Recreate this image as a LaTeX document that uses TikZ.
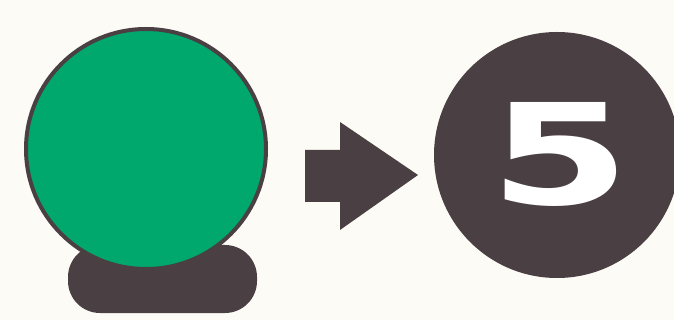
\documentclass[tikz,border=0pt]{standalone}
\usepackage{fontspec}
\newfontfamily\digitfont{DejaVu Sans}
\usepackage{tikz}
\usetikzlibrary{calc, positioning}
\definecolor{paper}{RGB}{253,251,246}
\definecolor{ink}{RGB}{74,64,67}
\definecolor{lamp}{RGB}{0,168,110}

\begin{document}
\begin{tikzpicture}[x=1pt,y=-1pt]
        \useasboundingbox[fill=paper] (0,0) rectangle (674,320);
        % base under the green disc
        \fill[ink, rounded corners=32pt] (68,245) rectangle (257,313);
        \node[circle, draw=ink, line width=4pt, fill=lamp, minimum size=240pt, inner sep=0pt] (green) at (146,149) {};
        \fill[ink] (305,150) -- (340,150) -- (340,122) -- (418,175)
                -- (340,230) -- (340,202) -- (305,202) -- cycle;
        \node[circle, fill=ink, minimum size=246pt, inner sep=0pt] (five) at (557,155) {};
        \node[text=white, xscale=1.45, font=\digitfont\bfseries\fontsize{140}{140}\selectfont, inner sep=0pt] (digit) at (560,154) {5};
        \end{tikzpicture}
\end{document}
